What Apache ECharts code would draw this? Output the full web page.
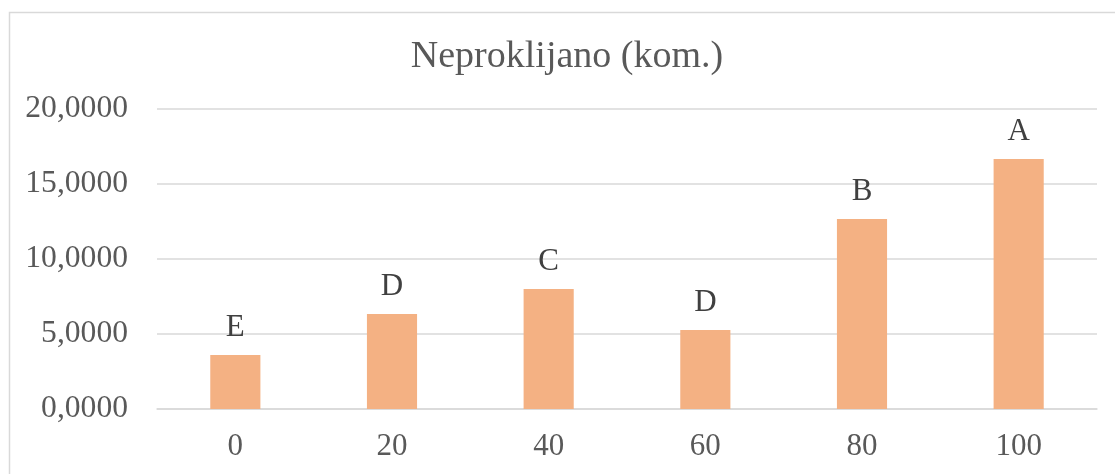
<!DOCTYPE html>
<html>
<head>
<meta charset="utf-8">
<script src="https://cdn.jsdelivr.net/npm/echarts@6/dist/echarts.min.js"></script>
<style>
html,body{margin:0;padding:0;background:#fff;}
#chart{width:1115px;height:474px;}
</style>
</head>
<body>
<div id="chart"></div>
<script>
var titleText = 'Neproklijano (kom.)';
var categories = ['0', '20', '40', '60', '80', '100'];
var values = [3.60, 6.33, 8.00, 5.27, 12.67, 16.67];
var letters = ['E', 'D', 'C', 'D', 'B', 'A'];
var yTicks = [0, 5, 10, 15, 20];

var chart = echarts.init(document.getElementById('chart'), null, {renderer: 'canvas'});
var serif = '"Liberation Serif", "Times New Roman", serif';
chart.setOption({
  animation: false,
  backgroundColor: '#ffffff',
  graphic: [{
    type: 'rect',
    left: 7, top: 10,
    shape: {width: 1120, height: 480},
    style: {fill: 'none', stroke: '#d9d9d9', lineWidth: 1.5},
    silent: true
  }],
  title: {
    text: titleText,
    left: 562, top: 33,
    textAlign: 'center',
    textStyle: {fontFamily: serif, fontSize: 38, fontWeight: 'normal', color: '#595959'}
  },
  grid: {left: 157, right: 18, top: 109, bottom: 65, containLabel: false},
  xAxis: {
    type: 'category',
    data: categories,
    axisLine: {show: true, lineStyle: {color: '#d9d9d9', width: 1.5}},
    axisTick: {show: false},
    axisLabel: {fontFamily: serif, fontSize: 31, color: '#595959', margin: 22}
  },
  yAxis: {
    type: 'value',
    min: yTicks[0], max: yTicks[yTicks.length - 1], interval: 5,
    axisLine: {show: false},
    axisTick: {show: false},
    splitLine: {lineStyle: {color: '#d9d9d9', width: 1.5}},
    axisLabel: {
      fontFamily: serif, fontSize: 31.6, color: '#595959', margin: 29,
      formatter: function (v) { return v.toFixed(4).replace('.', ','); }
    }
  },
  series: [{
    type: 'bar',
    data: values,
    barWidth: '32%',
    itemStyle: {color: '#F4B183'},
    label: {
      show: true, position: 'top', distance: 12,
      fontFamily: serif, fontSize: 31, color: '#404040',
      formatter: function (p) { return letters[p.dataIndex]; }
    }
  }]
});
</script>
</body>
</html>
